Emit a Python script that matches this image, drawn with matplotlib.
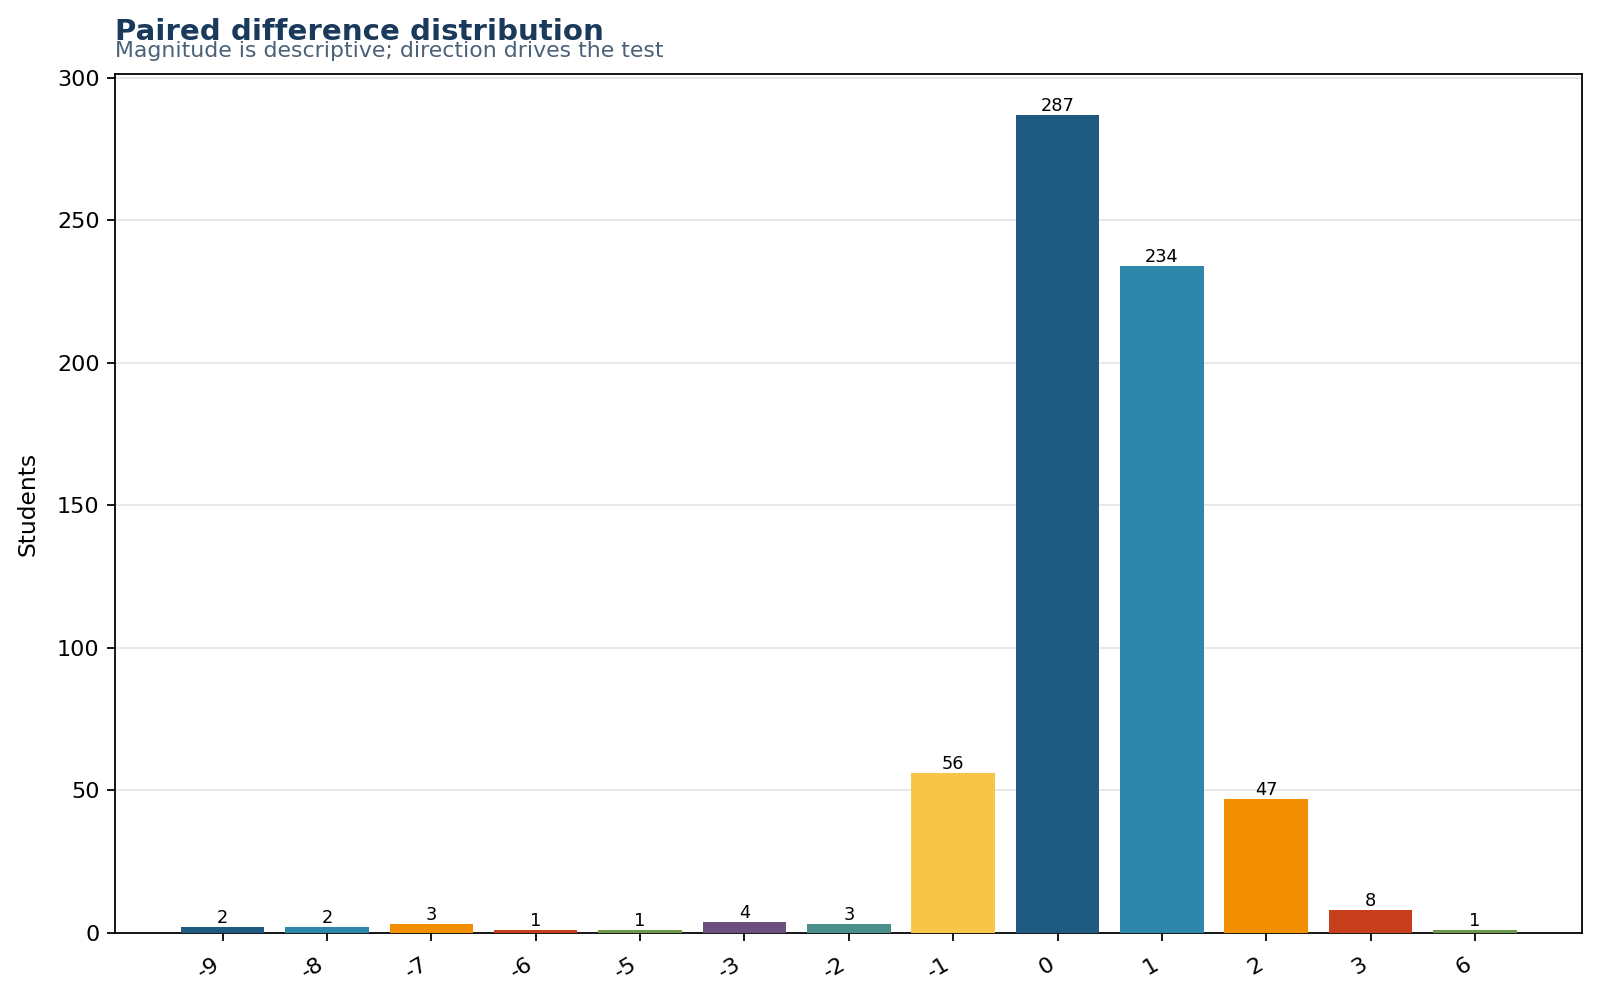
import matplotlib
matplotlib.use("Agg")
import matplotlib.pyplot as plt

categories = ["-9", "-8", "-7", "-6", "-5", "-3", "-2", "-1", "0", "1", "2", "3", "6"]
counts = [2, 2, 3, 1, 1, 4, 3, 56, 287, 234, 47, 8, 1]
palette = ["#1f5a82", "#2e86ab", "#f18f01", "#c73e1d", "#6a994e", "#6c4f7c", "#4a8f8a", "#f7c548"]

fig = plt.figure(figsize=(10, 6.25), dpi=160)
ax = fig.add_axes([0.072, 0.067, 0.917, 0.859])
colors = [palette[i % len(palette)] for i in range(len(categories))]
x = list(range(len(categories)))
bars = ax.bar(x, counts, width=0.8, color=colors, zorder=3)
for xi, c in zip(x, counts):
    ax.text(xi, c, str(c), ha="center", va="bottom", fontsize=8, zorder=4)

ax.set_xticks(x)
ax.set_xticklabels(categories, rotation=30, ha="right", rotation_mode="default")
ax.set_xlim(-1.03, 13.03)
ax.set_ylim(0, max(counts) * 1.05)
ax.set_ylabel("Students", fontsize=10.5, labelpad=8)
ax.tick_params(labelsize=10)
ax.tick_params(axis="x", pad=6)
ax.yaxis.grid(True, color="#e6e6e6", linewidth=0.8, zorder=0)
ax.set_axisbelow(True)

fig.text(0.072, 0.96, "Paired difference distribution", fontsize=13.15, fontweight="bold",
         color="#1a3a5c", ha="left", va="baseline")
fig.text(0.072, 0.943, "Magnitude is descriptive; direction drives the test", fontsize=9.9,
         color="#4a6178", ha="left", va="baseline")

fig.savefig("out.png", dpi=160)
